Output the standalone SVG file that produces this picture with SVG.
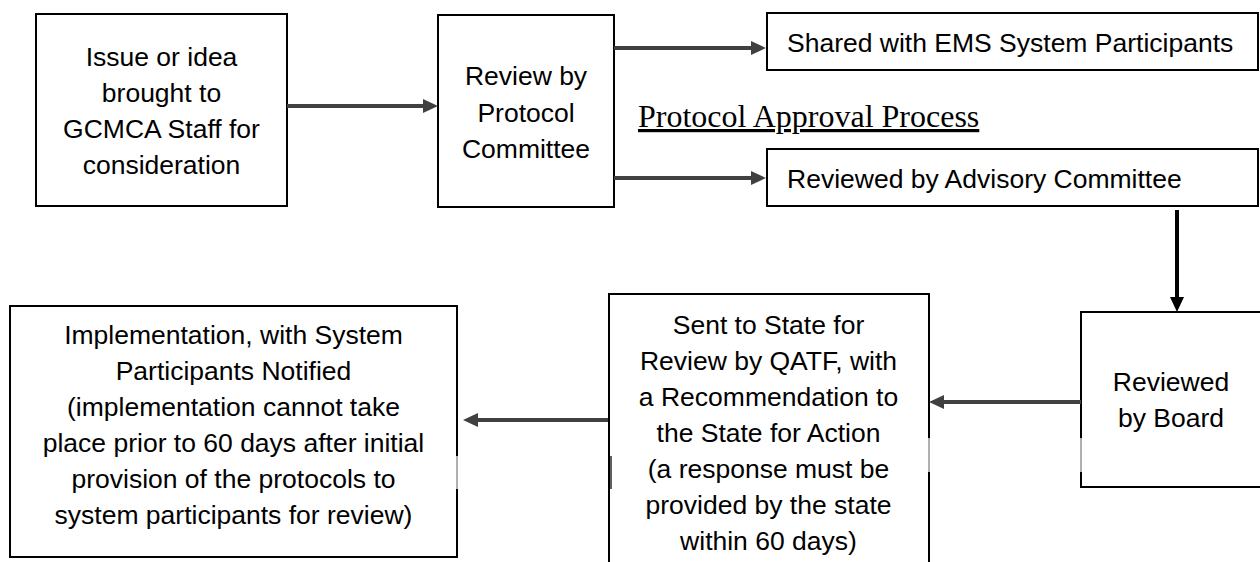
<svg xmlns="http://www.w3.org/2000/svg" width="1260" height="562" viewBox="0 0 1260 562">
<style>
.box{fill:#fff;stroke:#000;stroke-width:2}
.t{font-family:"Liberation Sans",Arial,sans-serif;font-size:26.5px;fill:#000;text-anchor:middle}
.tl{font-family:"Liberation Sans",Arial,sans-serif;font-size:26.5px;fill:#000}
.ttl{font-family:"Liberation Serif","Times New Roman",serif;font-size:32px;fill:#000;text-decoration:underline}
.con{stroke:#404040;stroke-width:4;fill:none}
.conb{stroke:#000;stroke-width:4;fill:none}
.art{stroke:#b0b0b0;stroke-width:2}
</style>
<defs>
<marker id="ah" markerUnits="userSpaceOnUse" markerWidth="16" markerHeight="16" refX="0" refY="7" orient="auto">
<path d="M0,0 L15,7 L0,14 Z" fill="#404040"/>
</marker>
<marker id="ahb" markerUnits="userSpaceOnUse" markerWidth="16" markerHeight="16" refX="0" refY="7" orient="auto">
<path d="M0,0 L15,7 L0,14 Z" fill="#000"/>
</marker>
</defs>
<rect width="1260" height="562" fill="#fff"/>
<g id="title">
<text class="ttl" x="638" y="127">Protocol Approval Process</text>
</g>
<g id="n1">
<rect class="box" x="36" y="14" width="251" height="192"/>
<text class="t" x="161.5" y="66">Issue or idea</text>
<text class="t" x="161.5" y="102">brought to</text>
<text class="t" x="161.5" y="138">GCMCA Staff for</text>
<text class="t" x="161.5" y="174">consideration</text>
</g>
<g id="n2">
<rect class="box" x="438" y="15" width="176" height="192"/>
<text class="t" x="526" y="85">Review by</text>
<text class="t" x="526" y="121.5">Protocol</text>
<text class="t" x="526" y="157.5">Committee</text>
</g>
<g id="n3">
<rect class="box" x="767" y="13" width="491" height="57"/>
<text class="tl" x="787" y="52">Shared with EMS System Participants</text>
</g>
<g id="n4">
<rect class="box" x="767" y="149" width="491" height="57"/>
<text class="tl" x="787" y="188">Reviewed by Advisory Committee</text>
</g>
<g id="n5">
<rect class="box" x="1081" y="312" width="190" height="175"/>
<text class="t" x="1171" y="391">Reviewed</text>
<text class="t" x="1171" y="427">by Board</text>
<line class="art" x1="1081" y1="438" x2="1081" y2="472"/>
</g>
<g id="n6">
<rect class="box" x="609" y="294" width="320" height="280"/>
<text class="t" x="768.5" y="334">Sent to State for</text>
<text class="t" x="768.5" y="370">Review by QATF, with</text>
<text class="t" x="768.5" y="406">a Recommendation to</text>
<text class="t" x="768.5" y="442">the State for Action</text>
<text class="t" x="768.5" y="478">(a response must be</text>
<text class="t" x="768.5" y="514">provided by the state</text>
<text class="t" x="768.5" y="550">within 60 days)</text>
<line class="art" x1="929" y1="438" x2="929" y2="472"/>
<line stroke="#606060" stroke-width="2" x1="611" y1="456" x2="611" y2="489"/>
</g>
<g id="n7">
<rect class="box" x="10" y="306" width="447" height="251"/>
<text class="t" x="233.5" y="343.5">Implementation, with System</text>
<text class="t" x="233.5" y="379.5">Participants Notified</text>
<text class="t" x="233.5" y="415.5">(implementation cannot take</text>
<text class="t" x="233.5" y="451.5">place prior to 60 days after initial</text>
<text class="t" x="233.5" y="487.5">provision of the protocols to</text>
<text class="t" x="233.5" y="523.5">system participants for review)</text>
<line class="art" x1="457" y1="456" x2="457" y2="489"/>
</g>
<g id="connectors">
<line class="con" x1="287" y1="106" x2="423" y2="106" marker-end="url(#ah)"/>
<line class="con" x1="614" y1="48" x2="751" y2="48" marker-end="url(#ah)"/>
<line class="con" x1="614" y1="178" x2="751" y2="178" marker-end="url(#ah)"/>
<line class="conb" x1="1177" y1="210" x2="1177" y2="297" marker-end="url(#ahb)"/>
<line class="con" x1="1081" y1="402" x2="944" y2="402" marker-end="url(#ah)"/>
<line class="con" x1="608" y1="420" x2="478" y2="420" marker-end="url(#ah)"/>
</g>
</svg>
